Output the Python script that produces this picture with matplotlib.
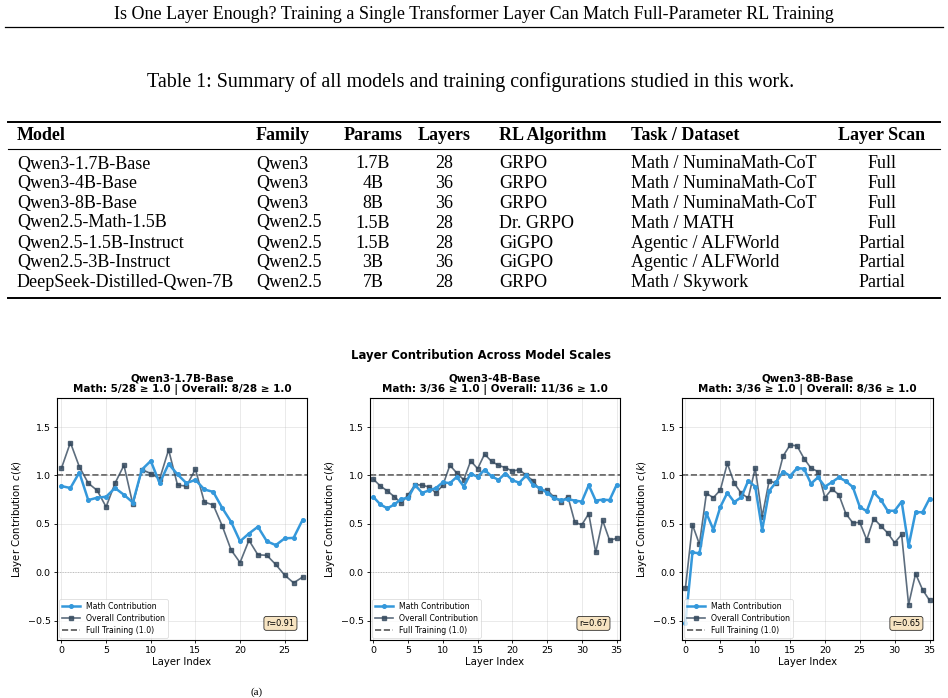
import matplotlib
matplotlib.use("Agg")
import matplotlib.pyplot as plt
from matplotlib.lines import Line2D
import numpy as np

W, H = 948, 698

# ---------------- data ----------------
page_header = "Is One Layer Enough? Training a Single Transformer Layer Can Match Full-Parameter RL Training"
table_caption = "Table 1: Summary of all models and training configurations studied in this work."
table_columns = ["Model", "Family", "Params", "Layers", "RL Algorithm", "Task / Dataset", "Layer Scan"]
table_models = ["Qwen3-1.7B-Base", "Qwen3-4B-Base", "Qwen3-8B-Base", "Qwen2.5-Math-1.5B",
                "Qwen2.5-1.5B-Instruct", "Qwen2.5-3B-Instruct", "DeepSeek-Distilled-Qwen-7B"]
table_family = ["Qwen3", "Qwen3", "Qwen3", "Qwen2.5", "Qwen2.5", "Qwen2.5", "Qwen2.5"]
table_params = ["1.7B", "4B", "8B", "1.5B", "1.5B", "3B", "7B"]
table_layers = ["28", "36", "36", "28", "28", "36", "28"]
table_algo = ["GRPO", "GRPO", "GRPO", "Dr. GRPO", "GiGPO", "GiGPO", "GRPO"]
table_task = ["Math / NuminaMath-CoT", "Math / NuminaMath-CoT", "Math / NuminaMath-CoT", "Math / MATH",
              "Agentic / ALFWorld", "Agentic / ALFWorld", "Math / Skywork"]
table_scan = ["Full", "Full", "Full", "Full", "Partial", "Partial", "Partial"]

fig_title = "Layer Contribution Across Model Scales"
panel_names = ["Qwen3-1.7B-Base", "Qwen3-4B-Base", "Qwen3-8B-Base"]
panel_counts = ["Math: 5/28 \u2265 1.0 | Overall: 8/28 \u2265 1.0",
                "Math: 3/36 \u2265 1.0 | Overall: 11/36 \u2265 1.0",
                "Math: 3/36 \u2265 1.0 | Overall: 8/36 \u2265 1.0"]
panel_r = ["r=0.91", "r=0.67", "r=0.65"]

math_17b = [0.89, 0.87, 1.03, 0.745, 0.77, 0.78, 0.87, 0.80, 0.72, 1.06, 1.15, 0.92, 1.12, 1.01,
            0.92, 0.955, 0.855, 0.83, 0.665, 0.52, 0.32, 0.40, 0.47, 0.32, 0.28, 0.35, 0.355, 0.54]
overall_17b = [1.075, 1.34, 1.09, 0.92, 0.845, 0.675, 0.92, 1.105, 0.70, 1.06, 1.02, 0.965, 1.265, 0.90,
               0.89, 1.065, 0.725, 0.695, 0.48, 0.23, 0.10, 0.33, 0.18, 0.175, 0.08, -0.03, -0.11, -0.05]

math_4b = [0.776, 0.70, 0.66, 0.70, 0.755, 0.77, 0.90, 0.82, 0.845, 0.87, 0.93, 0.92, 0.985, 0.885,
           1.02, 0.985, 1.06, 0.99, 0.955, 1.02, 0.95, 0.925, 1.0, 0.90, 0.87, 0.82, 0.765, 0.745,
           0.755, 0.74, 0.73, 0.90, 0.74, 0.75, 0.745, 0.90]
overall_4b = [0.96, 0.89, 0.84, 0.78, 0.715, 0.80, 0.905, 0.90, 0.88, 0.82, 0.90, 1.105, 1.025, 0.955,
              1.15, 1.07, 1.22, 1.145, 1.105, 1.08, 1.045, 1.06, 1.0, 0.945, 0.84, 0.85, 0.775, 0.73,
              0.78, 0.515, 0.49, 0.605, 0.205, 0.535, 0.33, 0.35]

math_8b = [-0.52, 0.205, 0.195, 0.61, 0.44, 0.675, 0.82, 0.725, 0.775, 0.945, 0.885, 0.435, 0.84, 0.93,
           1.04, 0.995, 1.075, 1.07, 0.915, 0.98, 0.885, 0.93, 0.98, 0.94, 0.88, 0.675, 0.63, 0.825,
           0.75, 0.635, 0.635, 0.73, 0.27, 0.62, 0.62, 0.76]
overall_8b = [-0.16, 0.49, 0.29, 0.815, 0.77, 0.85, 1.125, 0.92, 0.815, 0.765, 1.075, 0.575, 0.945, 0.92,
              1.20, 1.315, 1.305, 1.175, 1.075, 1.04, 0.77, 0.86, 0.80, 0.605, 0.51, 0.515, 0.335, 0.555,
              0.48, 0.405, 0.305, 0.39, -0.335, -0.015, -0.18, -0.29]

math_series = [math_17b, math_4b, math_8b]
overall_series = [overall_17b, overall_4b, overall_8b]

# ---------------- figure ----------------
fig = plt.figure(figsize=(W / 100, H / 100), dpi=100)
fig.patch.set_facecolor("white")

def fx(px):
    return px / W

def fy(py):
    return 1 - py / H

serif = ["Liberation Serif", "DejaVu Serif"]
page_fs = 13

def hline(y, x0, x1, lw):
    fig.add_artist(Line2D([fx(x0), fx(x1)], [fy(y), fy(y)], transform=fig.transFigure,
                          color="black", linewidth=lw))

# page header
fig.text(fx(474), fy(14), page_header, ha="center", va="center", family=serif, fontsize=page_fs)
hline(27, 5, 943, 0.9)

# caption
fig.text(fx(470.5), fy(82), table_caption, ha="center", va="center", family=serif, fontsize=14.4)

# table
hline(121.5, 8, 940, 1.4)
hline(149, 8, 940, 0.8)
hline(297.5, 8, 940, 1.4)

col_x = [17, 256, 373, 444, 499, 631, 882]
col_ha = ["left", "left", "center", "center", "left", "left", "center"]
header_y = 135.5
row_y = [164, 184, 203.5, 223, 243, 262.5, 282]

for c, name in enumerate(table_columns):
    fig.text(fx(col_x[c]), fy(header_y), name, ha=col_ha[c], va="center", family=serif,
             fontsize=page_fs, fontweight="bold")

rows = list(zip(table_models, table_family, table_params, table_layers, table_algo, table_task, table_scan))
for r, row in enumerate(rows):
    for c, val in enumerate(row):
        fig.text(fx(col_x[c]), fy(row_y[r]), val, ha=col_ha[c], va="center", family=serif,
                 fontsize=page_fs)

# figure suptitle
fig.text(fx(481), fy(356), fig_title, ha="center", va="center", fontsize=8.4, fontweight="bold")

# panels
axes_left = [57, 370, 682]
axes_w = [250, 250, 251]
ax_top, ax_bot = 398, 640

math_color = "#3498db"
overall_color = "#34495e"

for i in range(3):
    ax = fig.add_axes([fx(axes_left[i]), fy(ax_bot), axes_w[i] / W, (ax_bot - ax_top) / H])
    m = np.array(math_series[i])
    o = np.array(overall_series[i])
    x = np.arange(len(m))
    ax.plot(x, m, "-o", color=math_color, linewidth=1.8, markersize=2.6, label="Math Contribution", zorder=3)
    ax.plot(x, o, "-s", color=overall_color, linewidth=1.2, markersize=2.3, alpha=0.8,
            label="Overall Contribution", zorder=2)
    ax.axhline(1.0, color="#555555", linestyle="--", linewidth=1.2, label="Full Training (1.0)", zorder=1)
    ax.axhline(0.0, color="gray", linestyle=":", linewidth=0.7, alpha=0.5, zorder=1)
    ax.fill_between(x, 1.0, m, where=m > 1.0, interpolate=True, color=math_color, alpha=0.12, zorder=1)
    ax.set_xlim(-0.5, len(m) - 0.5)
    ax.set_ylim(-0.7, 1.8)
    ax.set_xticks(np.arange(0, len(m), 5))
    ax.set_yticks([-0.5, 0.0, 0.5, 1.0, 1.5])
    ax.grid(True, alpha=0.3, linewidth=0.6)
    ax.tick_params(labelsize=6.8, length=2.5, width=0.6, pad=2)
    for s in ax.spines.values():
        s.set_linewidth(0.8)
    ax.set_xlabel("Layer Index", fontsize=7.3, labelpad=1.5)
    ax.set_ylabel("Layer Contribution $c(k)$", fontsize=7.3, labelpad=3)
    ax.set_title(panel_names[i] + "\n" + panel_counts[i], fontsize=7.5, fontweight="bold", pad=4,
                 linespacing=1.15)
    leg = ax.legend(loc="lower left", fontsize=5.6, frameon=True, borderaxespad=0.3,
                    handlelength=2.2, labelspacing=0.35, borderpad=0.4)
    leg.get_frame().set_linewidth(0.5)
    ax.text(0.95, 0.05, panel_r[i], transform=ax.transAxes, ha="right", va="bottom", fontsize=5.9,
            bbox=dict(boxstyle="round,pad=0.3", facecolor="wheat", alpha=0.8, edgecolor="black",
                      linewidth=0.6))

# sub-caption at page bottom (mostly off-page in the source)
fig.text(fx(257), fy(697), "(a)", ha="center", va="bottom", family=serif, fontsize=8)

fig.savefig("out.png", dpi=100)
